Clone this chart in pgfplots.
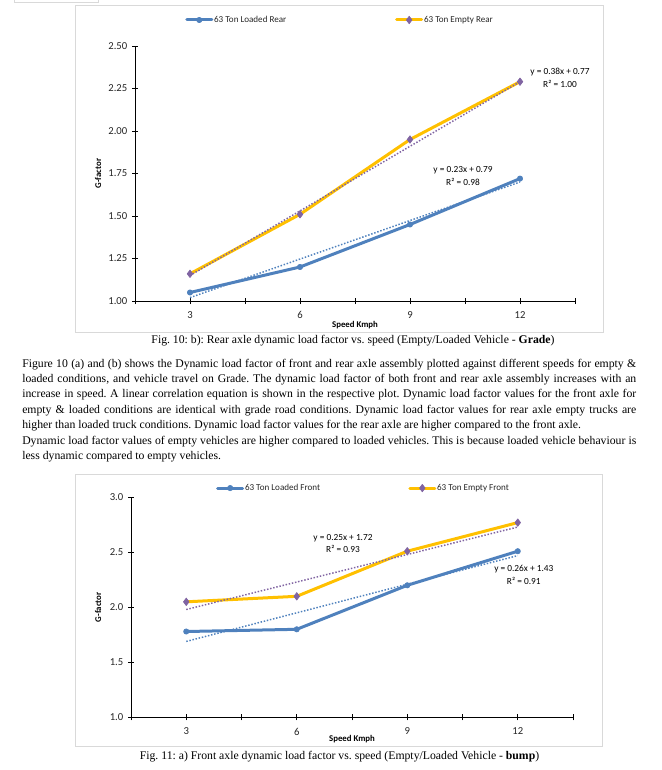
\documentclass[border=0pt]{standalone}
\usepackage{fontspec}
\setmainfont{Liberation Serif}
\newfontfamily\calibri{Carlito}
\usepackage{pgfplots}
\pgfplotsset{compat=1.18}

\definecolor{xlblue}{HTML}{4F81BD}
\definecolor{xlorange}{HTML}{FFC000}
\definecolor{xlpurple}{HTML}{8064A2}
\definecolor{framegray}{HTML}{D9D9D9}
\definecolor{ticktext}{HTML}{262626}

% one Excel-like chart: 1 px of the page = 0.75pt
\pgfplotsset{
  excelchart/.style={
    scale only axis, clip=false,
    anchor=south west,
    axis x line*=bottom, axis y line*=left,
    axis line style={black, line width=0.75pt, -},
    tick align=center, major tick length=4.5pt,
    tick style={black, line width=0.75pt},
    xmin=1.5, xmax=13.5,
    xtick={1.5,3,4.5,6,7.5,9,10.5,12,13.5},
    xticklabels={,3,,6,,9,,12,},
    ticklabel style={font=\calibri\fontsize{8}{9.5}\selectfont, text=ticktext},
    xticklabel style={yshift=-2.2pt},
    /pgf/number format/assume math mode=true,
    xlabel={Speed Kmph}, ylabel={G-factor},
    label style={font=\calibri\bfseries\fontsize{6.6}{8}\selectfont},
    legend style={draw=none, fill=none, inner sep=0pt, legend columns=2,
      anchor=west, font=\calibri\fontsize{6.8}{8}\selectfont, text=ticktext,
      nodes={inner sep=0.6pt}},
    legend image code/.code={\draw[mark repeat=2,mark phase=2,##1]
      plot coordinates {(0pt,0pt) (9.4pt,0pt) (18.8pt,0pt)};},
  },
  loaded/.style={xlblue, line width=2.25pt, line join=round, line cap=round,
    mark=*, mark size=2pt, mark options={fill=xlblue, draw=xlblue, line width=0.5pt}},
  empty/.style={xlorange, line width=2.25pt, line join=round, line cap=round,
    mark=diamond*, mark size=2.8pt, mark options={fill=xlpurple, draw=xlpurple, line width=0.5pt}},
  trendb/.style={xlblue, line width=1.1pt, dash pattern=on 1.1pt off 1.3pt, forget plot},
  trendp/.style={xlpurple, line width=1.1pt, dash pattern=on 1.1pt off 1.3pt, forget plot},
}

\begin{document}
\begin{tikzpicture}
\begin{scope}[x=0.75pt,y=-0.75pt]
  \path[use as bounding box] (0,0) rectangle (661,770);
  \draw[framegray, line width=0.75pt] (14,0) -- (14,2.7) -- (98,2.7) -- (98,0);
  \draw[framegray, line width=0.75pt] (75,6) rectangle (603,332);
  \draw[framegray, line width=0.75pt] (75,474) rectangle (602,746);

  % trendline equations
  \begin{scope}[every node/.style={font=\calibri\fontsize{7}{9.4}\selectfont, align=center, text=black, inner sep=0pt}]
    \node at (560,78) {y = 0.38x + 0.77\\R² = 1.00};
    \node at (463,175.8) {y = 0.23x + 0.79\\R² = 0.98};
    \node at (343,543.3) {y = 0.25x + 1.72\\R² = 0.93};
    \node at (523.8,575) {y = 0.26x + 1.43\\R² = 0.91};
  \end{scope}

  % captions and body text
  \begin{scope}[every node/.style={font=\fontsize{8.8}{11.6}\selectfont\frenchspacing, inner sep=0pt}]
    \node[anchor=base] at (353,343) {Fig. 10: b): Rear axle dynamic load factor vs. speed (Empty/Loaded Vehicle - \textbf{Grade})};
    \node[anchor=base] at (339.5,759.5) {Fig. 11: a) Front axle dynamic load factor vs. speed (Empty/Loaded Vehicle - \textbf{bump})};
    \node[anchor=base west] at (22,367) {\makebox[460.5pt][s]{Figure 10 (a) and (b) shows the Dynamic load factor of front and rear axle assembly plotted against different speeds for empty \&}};
    \node[anchor=base west] at (22,382.4) {\makebox[460.5pt][s]{loaded conditions, and vehicle travel on Grade. The dynamic load factor of both front and rear axle assembly increases with an}};
    \node[anchor=base west] at (22,397.8) {\makebox[460.5pt][s]{increase in speed. A linear correlation equation is shown in the respective plot. Dynamic load factor values for the front axle for}};
    \node[anchor=base west] at (22,413.2) {\makebox[460.5pt][s]{empty \& loaded conditions are identical with grade road conditions. Dynamic load factor values for rear axle empty trucks are}};
    \node[anchor=base west] at (22,428.6) {higher than loaded truck conditions. Dynamic load factor values for the rear axle are higher compared to the front axle.};
    \node[anchor=base west] at (22,444) {\makebox[460.5pt][s]{Dynamic load factor values of empty vehicles are higher compared to loaded vehicles. This is because loaded vehicle behaviour is}};
    \node[anchor=base west] at (22,459.4) {less dynamic compared to empty vehicles.};
  \end{scope}
\end{scope}

% Fig. 10 b): rear axle, grade
\begin{axis}[excelchart,
  at={(101.25pt,-225.75pt)}, width=330pt, height=191.25pt,
  ymin=1, ymax=2.5, ytick={1,1.25,1.5,1.75,2,2.25,2.5},
  yticklabel style={/pgf/number format/fixed, /pgf/number format/fixed zerofill, /pgf/number format/precision=2},
  xlabel style={at={(axis description cs:0.5,-0.094)}, anchor=center},
  ylabel style={at={(axis description cs:-0.084,0.5)}, anchor=center, rotate=0},
  legend style={at={(axis description cs:0.1136,1.102)},
    /tikz/every even column/.append style={column sep=81pt}},
]
\addplot[loaded] coordinates {(3,1.05) (6,1.20) (9,1.45) (12,1.72)};
\addlegendentry{63 Ton Loaded Rear}
\addplot[empty] coordinates {(3,1.16) (6,1.51) (9,1.95) (12,2.29)};
\addlegendentry{63 Ton Empty Rear}
\addplot[trendb] coordinates {(3,1.02) (12,1.70)};
\addplot[trendp] coordinates {(3,1.15) (12,2.29)};
\end{axis}

% Fig. 11 a): front axle, bump
\begin{axis}[excelchart,
  at={(98.25pt,-537.98pt)}, width=331.5pt, height=165pt,
  ymin=1, ymax=3, ytick={1,1.5,2,2.5,3},
  yticklabel style={/pgf/number format/fixed, /pgf/number format/fixed zerofill, /pgf/number format/precision=1},
  xlabel style={at={(axis description cs:0.5,-0.0986)}, anchor=center},
  ylabel style={at={(axis description cs:-0.0747,0.5)}, anchor=center, rotate=0},
  legend style={at={(axis description cs:0.192,1.042)},
    /tikz/every even column/.append style={column sep=65.5pt}},
]
\addplot[loaded] coordinates {(3,1.78) (6,1.80) (9,2.20) (12,2.51)};
\addlegendentry{63 Ton Loaded Front}
\addplot[empty] coordinates {(3,2.05) (6,2.10) (9,2.51) (12,2.77)};
\addlegendentry{63 Ton Empty Front}
\addplot[trendb] coordinates {(3,1.69) (12,2.47)};
\addplot[trendp] coordinates {(3,1.98) (12,2.73)};
\end{axis}
\end{tikzpicture}
\end{document}
